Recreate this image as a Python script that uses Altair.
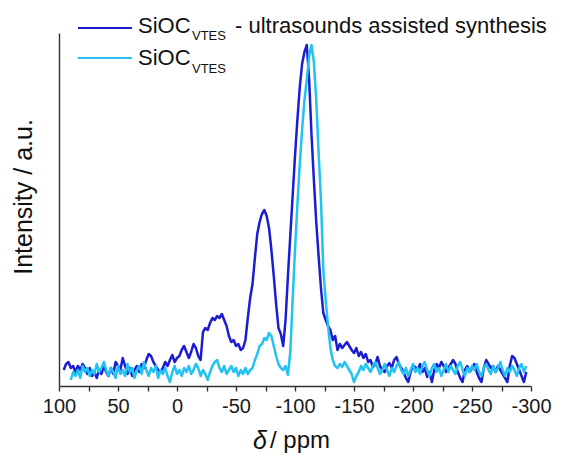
import altair as alt
import pandas as pd

# ---------------- data ----------------
series_names = ["SiOC_VTES - ultrasounds assisted synthesis", "SiOC_VTES"]
series_colors = ["#1c1cd2", "#22c3f0"]

# chemical shift sampling grid (ppm), 2 ppm steps
ppm_ultra = list(range(96, -297, -2))
ppm_plain = list(range(90, -297, -2))

# intensity (a.u.) of the ultrasounds-assisted sample, ppm 96 ... -296
ultra = [
    16, 22, 24, 18, 20, 14, 20, 16, 22, 18,
    12, 18, 10, 14, 8, 16, 12, 20, 14, 10,
    18, 12, 24, 20, 16, 28, 20, 12, 18, 10,
    16, 20, 14, 22, 18, 26, 32, 30, 24, 20,
    16, 14, 18, 24, 20, 26, 31, 24, 28, 30,
    36, 40, 34, 28, 34, 42, 38, 30, 26, 54,
    58, 56, 63, 68, 66, 70, 68, 72, 66, 60,
    50, 44, 46, 40, 42, 36, 38, 46, 68, 88,
    102, 128, 152, 164, 172, 176, 170, 158, 136, 110,
    82, 58, 52, 40, 66, 110, 150, 190, 230, 266,
    298, 322, 334, 341, 306, 251, 206, 164, 130, 98,
    73, 66, 60, 56, 46, 50, 36, 42, 38, 41,
    44, 40, 36, 33, 38, 30, 34, 28, 32, 24,
    26, 19, 22, 29, 20, 16, 14, 20, 23, 18,
    26, 29, 22, 18, 14, 8, 4, 14, 20, 19,
    16, 22, 14, 18, 9, 14, 4, 16, 22, 18,
    24, 20, 14, 18, 22, 26, 22, 14, 8, 4,
    16, 20, 14, 18, 22, 14, 8, 4, 18, 26,
    22, 18, 20, 14, 20, 16, 12, 8, 4, 20,
    30, 28, 22, 16, 10, 4, 14,
]

# intensity (a.u.) of the conventional sample, ppm 90 ... -296
plain = [
    6, 14, 10, 16, 8, 20, 14, 18, 10, 16,
    12, 22, 14, 18, 24, 16, 10, 18, 14, 8,
    20, 12, 16, 10, 22, 14, 18, 8, 16, 20,
    12, 24, 16, 10, 18, 14, 20, 8, 16, 12,
    18, 10, 4, 14, 20, 12, 16, 10, 18, 14,
    20, 12, 16, 22, 18, 10, 16, 12, 6, 14,
    20, 24, 26, 18, 14, 20, 12, 16, 20, 14,
    18, 10, 16, 12, 18, 12, 16, 18, 26, 32,
    40, 42, 48, 46, 53, 50, 40, 30, 22, 18,
    16, 20, 11, 34, 86, 136, 181, 221, 256, 286,
    306, 330, 341, 324, 286, 234, 186, 116, 86, 60,
    38, 26, 20, 18, 22, 19, 24, 20, 16, 12,
    4, 10, 14, 20, 16, 22, 18, 14, 20, 24,
    18, 12, 16, 22, 16, 10, 18, 14, 20, 24,
    16, 12, 18, 10, 16, 22, 14, 18, 12, 20,
    24, 16, 10, 18, 22, 14, 18, 10, 16, 22,
    14, 20, 16, 12, 20, 24, 16, 10, 18, 14,
    20, 16, 22, 14, 10, 18, 22, 16, 12, 20,
    14, 18, 24, 16, 10, 18, 14, 20, 16, 10,
    18, 22, 14, 20,
]

x_ticks = [100, 75, 50, 25, 0, -25, -50, -75, -100, -125, -150, -175,
           -200, -225, -250, -275, -300]

# ---------------- chart ----------------
df = pd.concat([
    pd.DataFrame({"ppm": ppm_ultra, "intensity": ultra, "series": series_names[0], "o": 0}),
    pd.DataFrame({"ppm": ppm_plain, "intensity": plain, "series": series_names[1], "o": 1}),
], ignore_index=True)

FONT = "Liberation Sans"

lines = alt.Chart(df).mark_line(strokeWidth=2.5, strokeJoin="round").encode(
    x=alt.X("ppm:Q",
            scale=alt.Scale(domain=[100, -300], nice=False, zero=False),
            axis=alt.Axis(title=None, values=x_ticks, grid=False,
                          labelExpr="datum.value % 50 == 0 ? toString(datum.value) : ''",
                          labelFontSize=20, labelFont=FONT, labelColor="#1a1a1a",
                          labelPadding=5, tickSize=5, tickWidth=1.4, tickColor="#333333",
                          domainColor="#333333", domainWidth=1.4, labelFlush=False)),
    y=alt.Y("intensity:Q",
            scale=alt.Scale(domain=[0, 353], nice=False, zero=False),
            axis=alt.Axis(title=None, labels=False, ticks=False, grid=False,
                          domainColor="#333333", domainWidth=1.4)),
    color=alt.Color("series:N",
                    scale=alt.Scale(domain=series_names, range=series_colors),
                    legend=None),
    detail="o:N",
    order="o:Q",
)

one = pd.DataFrame({"d": [0]})


def txt(s, x, y, size, color="#111111", italic=False, angle=0, align="left"):
    kw = dict(fontSize=size, font=FONT, color=color, align=align,
              baseline="alphabetic")
    if italic:
        kw["fontStyle"] = "italic"
    if angle:
        kw["angle"] = angle
    return alt.Chart(one).mark_text(**kw).encode(
        x=alt.value(x), y=alt.value(y), text=alt.value(s))


def swatch(color, y):
    return alt.Chart(one).mark_rule(color=color, strokeWidth=2).encode(
        x=alt.value(19), x2=alt.value(73), y=alt.value(y))


legend_layers = [
    swatch(series_colors[0], -5),
    txt("SiOC", 79, 0, 22),
    txt("VTES", 133, 7, 13),
    txt("- ultrasounds assisted synthesis", 176, 0, 22),
    swatch(series_colors[1], 25),
    txt("SiOC", 79, 32, 22),
    txt("VTES", 133, 40, 13),
]

title_layers = [
    txt("δ", 194, 416, 25, italic=True),
    txt("/ ppm", 211, 415, 24),
    txt("Intensity / a.u.", -27, 164, 25, angle=270, align="center"),
]

chart = alt.layer(lines, *legend_layers, *title_layers).properties(
    width=472, height=353,
    padding={"left": 51, "top": 25, "right": 30, "bottom": 70},
    autosize=alt.AutoSizeParams(type="none"),
).configure_view(stroke=None)

chart.save("out.html", embed_options={"renderer": "svg", "actions": False})
